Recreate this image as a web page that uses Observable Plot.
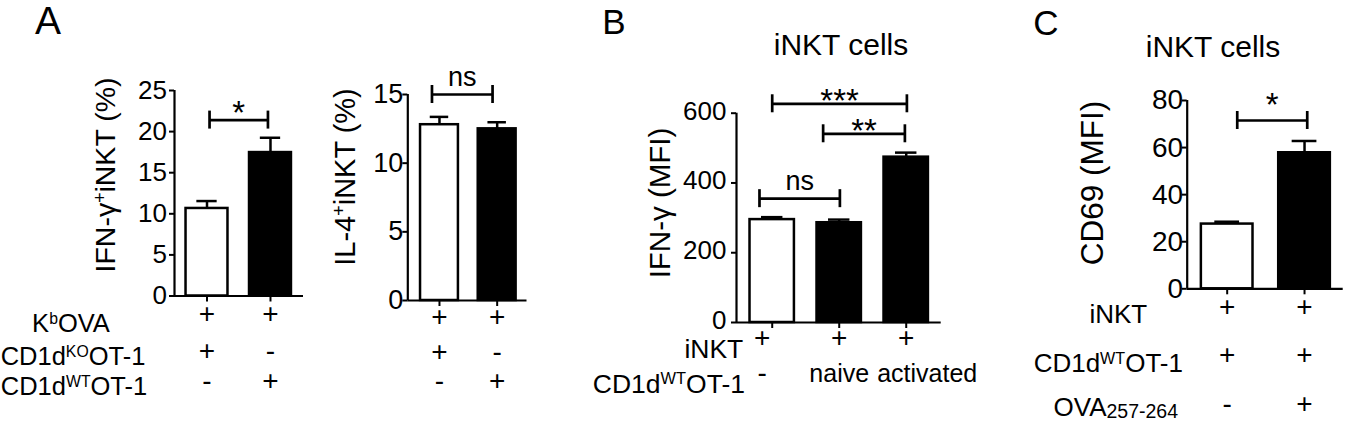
<!DOCTYPE html>
<html><head><meta charset="utf-8">
<script src="https://cdn.jsdelivr.net/npm/d3@7"></script>
<script src="https://cdn.jsdelivr.net/npm/@observablehq/plot@0.6"></script>
<style>
body{margin:0;background:#fff;}
#fig{position:relative;width:1345px;height:425px;overflow:hidden;background:#fff;font-family:"Liberation Sans",Arial,Helvetica,sans-serif;color:#000;}
.lbl{position:absolute;white-space:nowrap;line-height:0.85;transform:translate(-50%,-50%);}
.lbl.r{transform:translate(-100%,-50%);}
.lbl.rot{transform:translate(-50%,-50%) rotate(-90deg);}
sup{font-size:0.62em;vertical-align:0.52em;line-height:0;}
sub{font-size:0.75em;vertical-align:-0.12em;line-height:0;}
</style></head><body><div id="fig"></div>
<script>
// ---------- DATA ----------
// Panel A: groups (KbOVA + CD1dKO OT-1 / KbOVA + CD1dWT OT-1)
const aGroups = ["CD1dKO OT-1", "CD1dWT OT-1"];
const aIfngPct = [10.65, 17.45];
const aIfngSem = [0.9, 1.8];
const aIl4Pct = [12.8, 12.5];
const aIl4Sem = [0.57, 0.48];
const aTicksIfng = [0, 5, 10, 15, 20, 25];
const aTicksIl4 = [0, 5, 10, 15];
const aRowKbOVA = ["+", "+"];
const aRowKO = ["+", "-"];
const aRowWT = ["-", "+"];
const aSigIfng = [{from: 0.04, to: 0.96, y: 21.4, label: "*"}];
const aSigIl4 = [{from: -0.13, to: 0.92, y: 15.0, label: "ns"}];

// Panel B: iNKT cells, IFN-γ MFI
const bGroups = ["iNKT alone", "naive", "activated"];
const bIfngMfi = [295, 286, 474];
const bIfngSem = [7, 9, 13];
const bTicks = [0, 200, 400, 600];
const bRowINKT = ["+", "+", "+"];
const bRowWT = ["-", "naive", "activated"];
const bSig = [
  {from: 0, to: 2.01, y: 627, label: "***"},
  {from: 0.76, to: 1.98, y: 541, label: "**"},
  {from: -0.19, to: 1.01, y: 355, label: "ns"}
];

// Panel C: iNKT cells, CD69 MFI
const cGroups = ["OVA257-264 -", "OVA257-264 +"];
const cCd69Mfi = [27.5, 57.8];
const cCd69Sem = [1.0, 5.0];
const cTicks = [0, 20, 40, 60, 80];
const cRowINKT = ["+", "+"];
const cRowWT = ["+", "+"];
const cRowOVA = ["-", "+"];
const cSig = [{from: 0.13, to: 1.035, y: 71.5, label: "*"}];

// ---------- LAYOUT ----------
const FONT = '"Liberation Sans", Arial, Helvetica, sans-serif';
const H = 425;

function panel(cfg) {
  const {left, width, axisX, axisEnd, y0, yTopPx, yMax, xDomain, ticks, means, sems, fills,
         sig, rows, tickGap, tickFont, tickDy = 0, starDy, nsDy} = cfg;
  const idx = means.map((_, i) => i);
  const bars = idx.map(i => ({i, m: means[i], s: sems[i], fill: fills[i]}));
  const marks = [
    Plot.rectY(bars, {x1: d => d.i - 0.35, x2: d => d.i + 0.35, y1: 0, y2: "m", fill: "fill",
      stroke: "black", strokeWidth: 2.5, insetLeft: 1.25, insetRight: 1.25}),
    Plot.ruleX(bars, {x: "i", y1: "m", y2: d => d.m + d.s, stroke: "black", strokeWidth: 2.5}),
    Plot.ruleY(bars, {y: d => d.m + d.s, x1: d => d.i - 0.16, x2: d => d.i + 0.16, stroke: "black", strokeWidth: 2.5}),
    Plot.ruleY([0], {stroke: "black", strokeWidth: 2.2}),
    Plot.ruleX([xDomain[0]], {y1: 0, y2: yMax, stroke: "black", strokeWidth: 2.2}),
    Plot.axisY({ticks, tickSize: 5, tickPadding: tickGap - 5, fontSize: tickFont, strokeWidth: 2, label: null, text: null}),
    Plot.axisY({ticks, tickSize: 0, tickPadding: tickGap, fontSize: tickFont, dy: tickDy, label: null, tick: null}),
    Plot.axisX({ticks: idx, tickSize: 6, tickFormat: () => "", strokeWidth: 2, label: null}),
    Plot.ruleY(sig, {y: "y", x1: "from", x2: "to", stroke: "black", strokeWidth: 2.7}),
    Plot.ruleX(sig, {x: "from", y1: "y", y2: "y", insetTop: 9, insetBottom: 9, stroke: "black", strokeWidth: 2.7}),
    Plot.ruleX(sig, {x: "to", y1: "y", y2: "y", insetTop: 9, insetBottom: 9, stroke: "black", strokeWidth: 2.7}),
    Plot.text(sig.filter(d => d.label !== "ns"), {x: d => (d.from + d.to) / 2, y: "y", text: "label",
      fontSize: 33, dy: starDy, fill: "black"}),
    Plot.text(sig.filter(d => d.label === "ns"), {x: d => (d.from + d.to) / 2, y: "y", text: "label",
      fontSize: 27, dy: nsDy, fill: "black"})
  ];
  rows.forEach(r => {
    r.values.forEach((v, j) => {
      const sign = v === "+" || v === "-";
      marks.push(Plot.text([v], {x: () => j, text: d => d, frameAnchor: "bottom",
        dy: r.dy, dx: (r.dx || [])[j] || 0, fontSize: sign ? 28 : 25, fill: "black"}));
    });
  });
  const svg = Plot.plot({
    width, height: H,
    marginLeft: axisX - left, marginRight: left + width - axisEnd,
    marginTop: yTopPx, marginBottom: H - y0,
    x: {type: "linear", domain: xDomain},
    y: {domain: [0, yMax]},
    color: {type: "identity"},
    style: {background: "transparent", fontFamily: FONT, color: "black", overflow: "visible"},
    marks
  });
  svg.style.position = "absolute";
  svg.style.left = left + "px";
  svg.style.top = "0px";
  document.getElementById("fig").appendChild(svg);
}

// Panel A, IFN-γ
panel({left: 0, width: 310, axisX: 174, axisEnd: 303, y0: 295.5, yTopPx: 90, yMax: 25,
  xDomain: [-0.512, 1.52], ticks: aTicksIfng, means: aIfngPct, sems: aIfngSem, fills: ["white", "black"],
  sig: aSigIfng, tickGap: 7.5, tickFont: 26, starDy: -7, nsDy: -17,
  rows: [{values: aRowKbOVA, dy: 26.5}, {values: aRowKO, dy: 63.5}, {values: aRowWT, dy: 93.5}]});

// Panel A, IL-4
panel({left: 310, width: 235, axisX: 407.3, axisEnd: 526.5, y0: 300, yTopPx: 94, yMax: 15,
  xDomain: [-0.549, 1.517], ticks: aTicksIl4, means: aIl4Pct, sems: aIl4Sem, fills: ["white", "black"],
  sig: aSigIl4, tickGap: 4.5, tickFont: 27, starDy: -7, nsDy: -17,
  rows: [{values: aRowKbOVA, dy: 25}, {values: aRowKO, dy: 60}, {values: aRowWT, dy: 89}]});

// Panel B
panel({left: 545, width: 455, axisX: 736, axisEnd: 940.7, y0: 322, yTopPx: 112.7, yMax: 600,
  xDomain: [-0.533, 2.522], ticks: bTicks, means: bIfngMfi, sems: bIfngSem, fills: ["white", "black", "black"],
  sig: bSig, tickGap: 10, tickFont: 26, tickDy: -2, starDy: -2, nsDy: -17,
  rows: [{values: bRowINKT, dy: 24.7, dx: [-10, 0, 0]}, {values: bRowWT, dy: 59.7, dx: [-10, 0, 21]}]});

// Panel C
panel({left: 1000, width: 345, axisX: 1186.7, axisEnd: 1342.7, y0: 288.3, yTopPx: 100, yMax: 80,
  xDomain: [-0.517, 1.5], ticks: cTicks, means: cCd69Mfi, sems: cCd69Sem, fills: ["white", "black"],
  sig: cSig, tickGap: 4, tickFont: 28, starDy: -15, nsDy: -17,
  rows: [{values: cRowINKT, dy: 26.7}, {values: cRowWT, dy: 75}, {values: cRowOVA, dy: 124.5}]});

// ---------- TEXT LABELS ----------
const labels = [
  {h: "A", x: 48, y: 21, s: 39},
  {h: "B", x: 614, y: 21.7, s: 35},
  {h: "C", x: 1046, y: 22.5, s: 35},
  {h: "iNKT cells", x: 841, y: 45, s: 30},
  {h: "iNKT cells", x: 1213, y: 46.7, s: 30},
  {h: "IFN-γ<sup>+</sup>iNKT (%)", x: 105, y: 175, s: 28.5, cls: "rot"},
  {h: "IL-4<sup>+</sup>iNKT (%)", x: 345, y: 176.5, s: 29, cls: "rot"},
  {h: "IFN-γ (MFI)", x: 660, y: 203.3, s: 29.5, cls: "rot"},
  {h: "CD69 (MFI)", x: 1091.7, y: 183.3, s: 31.5, cls: "rot"},
  {h: "K<sup>b</sup>OVA", x: 71, y: 323.5, s: 25.5},
  {h: "CD1d<sup>KO</sup>OT-1", x: 73, y: 356.5, s: 25.5},
  {h: "CD1d<sup>WT</sup>OT-1", x: 74, y: 386.5, s: 25.5},
  {h: "iNKT", x: 743.3, y: 349, s: 26.5, cls: "r"},
  {h: "CD1d<sup>WT</sup>OT-1", x: 745, y: 384, s: 26.5, cls: "r"},
  {h: "iNKT", x: 1118.3, y: 314.2, s: 26},
  {h: "CD1d<sup>WT</sup>OT-1", x: 1108.3, y: 363.3, s: 26},
  {h: "OVA<sub>257-264</sub>", x: 1115.8, y: 407, s: 26}
];
const fig = document.getElementById("fig");
labels.forEach(l => {
  const d = document.createElement("div");
  d.className = "lbl" + (l.cls ? " " + l.cls : "");
  d.style.left = l.x + "px";
  d.style.top = l.y + "px";
  d.style.fontSize = l.s + "px";
  d.innerHTML = l.h;
  fig.appendChild(d);
});
</script></body></html>
